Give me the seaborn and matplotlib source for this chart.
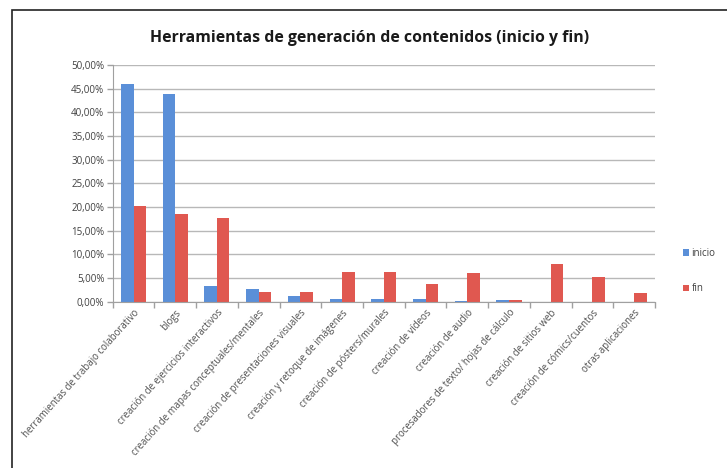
import pandas as pd
import numpy as np
import matplotlib.pyplot as plt
import matplotlib.patches as mpatches
from matplotlib.ticker import FuncFormatter, FixedLocator
import seaborn as sns

# Data (percent)
categorias = [
    'herramientas de trabajo colaborativo',
    'blogs',
    'creación de ejercicios interactivos',
    'creación de mapas conceptuales/mentales',
    'creación de presentaciones visuales',
    'creación y retoque de imágenes',
    'creación de pósters/murales',
    'creación de vídeos',
    'creación de audio',
    'procesadores de texto/ hojas de cálculo',
    'creación de sitios web',
    'creación de cómics/cuentos',
    'otras aplicaciones',
]
inicio = [45.9, 43.8, 3.4, 2.7, 1.2, 0.5, 0.6, 0.6, 0.2, 0.3, 0.0, 0.0, 0.0]
fin = [20.2, 18.5, 17.8, 2.0, 2.0, 6.3, 6.3, 3.7, 6.1, 0.3, 8.0, 5.3, 1.9]
series = ['inicio', 'fin']
colores = ['#5a8fd8', '#e05850']

df = pd.DataFrame({
    'categoria': categorias * 2,
    'serie': ['inicio'] * len(categorias) + ['fin'] * len(categorias),
    'valor': inicio + fin,
})

sns.set_style("white")
plt.rcParams['font.family'] = ['Open Sans', 'DejaVu Sans']

fig = plt.figure(figsize=(7.27, 4.68), dpi=100)
ax = fig.add_axes([0.155, 0.355, 0.746, 0.506])

sns.barplot(data=df, x='categoria', y='valor', hue='serie', hue_order=series,
            palette=colores, width=0.6, gap=0, ax=ax, errorbar=None,
            saturation=1, linewidth=0)

ax.set_ylim(0, 50)
ax.set_xlim(-0.5, len(categorias) - 0.5)
ax.set_yticks(np.arange(0, 51, 5))
ax.yaxis.set_major_formatter(FuncFormatter(lambda v, p: f'{v:.2f}%'.replace('.', ',')))
ax.yaxis.grid(True, color='#b8b8b8', linewidth=1)
ax.set_axisbelow(True)
ax.set_xlabel('')
ax.set_ylabel('')

for s in ['top', 'right']:
    ax.spines[s].set_visible(False)
for s in ['left', 'bottom']:
    ax.spines[s].set_color('#a0a0a0')

ax.tick_params(axis='y', labelsize=7, colors='#404040', length=4, width=1,
               direction='out', left=True, color='#a0a0a0', pad=2)
ax.tick_params(axis='x', which='major', length=0, labelsize=6.9,
               labelcolor='#505050', pad=4)
ax.xaxis.set_minor_locator(FixedLocator(np.arange(-0.5, len(categorias), 1)))
ax.tick_params(axis='x', which='minor', bottom=True, length=4, width=1,
               color='#a0a0a0', direction='out')
plt.setp(ax.get_xticklabels(), rotation=48, ha='right', rotation_mode='anchor')

leg = ax.legend(loc='center left', bbox_to_anchor=(1.035, 0.13), frameon=False,
                fontsize=7, handlelength=0.6, handleheight=0.6,
                labelspacing=2.5, handletextpad=0.3, labelcolor='#404040')

fig.text(0.508, 0.918, 'Herramientas de generación de contenidos (inicio y fin)',
         ha='center', va='center', fontsize=11.4, fontweight='bold', color='#1a1a1a')

# outer frame (visible only on left and top)
fig.add_artist(mpatches.Rectangle((12 / 727, -0.2), 1.2, 0.2 + 1 - 10 / 468,
                                  transform=fig.transFigure, fill=False,
                                  edgecolor='#222222', linewidth=1.2))

fig.savefig('out.png', dpi=100)
